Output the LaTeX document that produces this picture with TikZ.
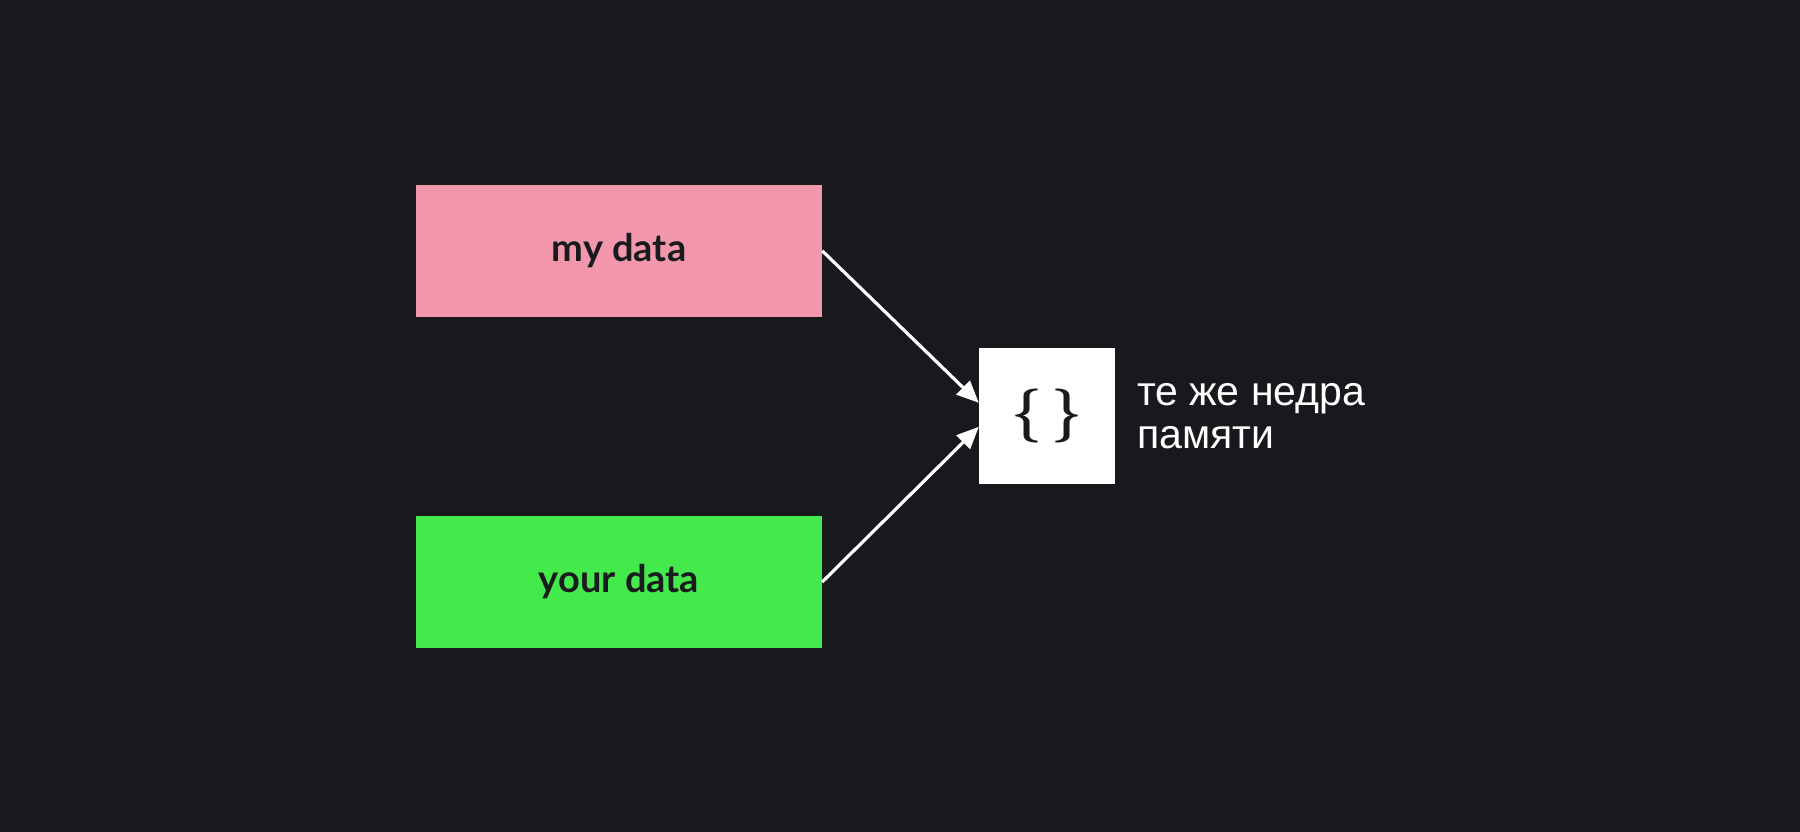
\documentclass[tikz,border=0pt]{standalone}
\usepackage{fontspec}
\setmainfont{Liberation Sans}
\newfontfamily\labelfont{Lato}
\newfontfamily\bracefont{Latin Modern Roman}
\usetikzlibrary{arrows.meta}
\definecolor{bgc}{HTML}{18191D}
\definecolor{pinkc}{HTML}{F397AD}
\definecolor{greenc}{HTML}{44E94B}
\definecolor{inkc}{HTML}{1A1B1F}
\tikzset{
  databox/.style={minimum width=406pt, minimum height=131.7pt, inner sep=0pt, text=inkc,
    font=\labelfont\bfseries\fontsize{38}{44}\selectfont},
  objbox/.style={fill=white, minimum width=136pt, minimum height=136pt, inner sep=0pt, text=inkc,
    font=\bracefont\bfseries\fontsize{54}{60}\selectfont},
  arr/.style={draw=white, line width=3.2pt, -{Triangle[length=22pt, width=19pt]}},
  note/.style={text=white, align=left, inner sep=0pt, font=\fontsize{41}{43}\selectfont}
}
\begin{document}
\begin{tikzpicture}[x=1pt,y=-1pt]
\fill[bgc] (0,0) rectangle (1800,832);
\useasboundingbox (0,0) rectangle (1800,832);
\node[databox, fill=pinkc] (my) at (619,250.8) {my data};
\node[databox, fill=greenc] (your) at (619,582) {your data};
\node[objbox] (obj) at (1047,415.8) {\{\,\}};
\node[note, anchor=base west] (lbl) at (1136.8,448.3) {те же недра\\памяти};
\draw[arr] (my.east) -- ([yshift=13pt]obj.west);
\draw[arr] (your.east) -- ([yshift=-11pt]obj.west);
\end{tikzpicture}
\end{document}
